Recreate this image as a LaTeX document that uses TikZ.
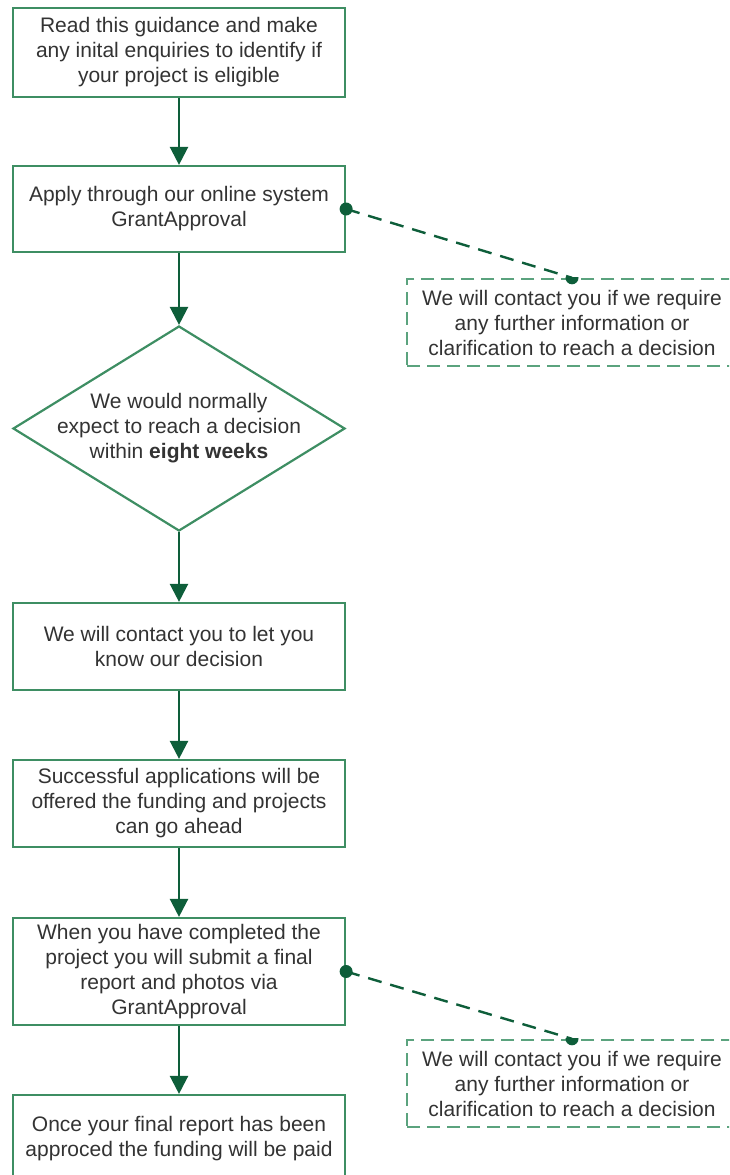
\documentclass[tikz,border=0pt]{standalone}
\usepackage{fontspec}
\setmainfont{Liberation Sans}
\usetikzlibrary{shapes.geometric,arrows.meta}
\definecolor{boxgreen}{HTML}{3E8E63}
\definecolor{arrgreen}{HTML}{0E5E3A}
\definecolor{dashgreen}{HTML}{5BA37E}
\definecolor{txt}{HTML}{333333}
\tikzset{
  txtstyle/.style={font=\fontsize{21}{25}\selectfont, text=txt, align=center},
  procbox/.style={draw=boxgreen, line width=2.2pt, rectangle, minimum width=332pt, inner sep=0pt, txtstyle, fill=white},
  notebox/.style={draw=dashgreen, line width=2.4pt, dash pattern=on 13pt off 7pt, rectangle, minimum width=330pt, inner sep=0pt, txtstyle, fill=white},
  decshape/.style={draw=boxgreen, line width=2.2pt, diamond, minimum width=332pt, minimum height=205pt, inner sep=0pt},
  flowarrow/.style={draw=arrgreen, line width=2.4pt, -{Triangle[width=18pt,length=18pt]}},
  noteline/.style={draw=arrgreen, line width=2.4pt, dash pattern=on 14pt off 9pt},
  enddot/.style={fill=arrgreen, circle, inner sep=0pt, minimum size=13pt},
}
\begin{document}
\begin{tikzpicture}[x=1pt,y=-1pt]
\useasboundingbox (0,0) rectangle (729,1175);
\clip (0,0) rectangle (729,1175);
\node[procbox, minimum height=89pt] (b1) at (179,52.5) {Read this guidance and make\\any inital enquiries to identify if\\your project is eligible};
\node[procbox, minimum height=86pt] (b2) at (179,209) {Apply through our online system\\GrantApproval};
\node[decshape] (d) at (179,428.5) {};
\node[txtstyle] (dt) at (d) {We would normally\\expect to reach a decision\\within \textbf{eight weeks}};
\node[procbox, minimum height=87pt] (b4) at (179,646.5) {We will contact you to let you\\know our decision};
\node[procbox, minimum height=87pt] (b5) at (179,803.5) {Successful applications will be\\offered the funding and projects\\can go ahead};
\node[procbox, minimum height=107pt] (b6) at (179,971.5) {When you have completed the\\project you will submit a final\\report and photos via\\GrantApproval};
\node[procbox, minimum height=87pt] (b7) at (179,1138.5) {Once your final report has been\\approced the funding will be paid};
\node[notebox, minimum height=87pt] (n1) at (572,322.5) {We will contact you if we require\\any further information or\\clarification to reach a decision};
\node[notebox, minimum height=87pt] (n2) at (572,1083.5) {We will contact you if we require\\any further information or\\clarification to reach a decision};
\draw[flowarrow] (b1.south) -- (b2.north);
\draw[flowarrow] (b2.south) -- (d.north);
\draw[flowarrow] (d.south) -- (b4.north);
\draw[flowarrow] (b4.south) -- (b5.north);
\draw[flowarrow] (b5.south) -- (b6.north);
\draw[flowarrow] (b6.south) -- (b7.north);
\draw[noteline] (b2.east) -- (n1.north);
\draw[noteline] (b6.east) -- (n2.north);
\node[enddot] (p1) at (b2.east) {};
\node[enddot] (p2) at (b6.east) {};
\begin{scope}
\clip (n1.north west) rectangle ([yshift=-10pt]n1.north east);
\node[enddot] (q1) at (n1.north) {};
\end{scope}
\begin{scope}
\clip (n2.north west) rectangle ([yshift=-10pt]n2.north east);
\node[enddot] (q2) at (n2.north) {};
\end{scope}
\end{tikzpicture}
\end{document}
